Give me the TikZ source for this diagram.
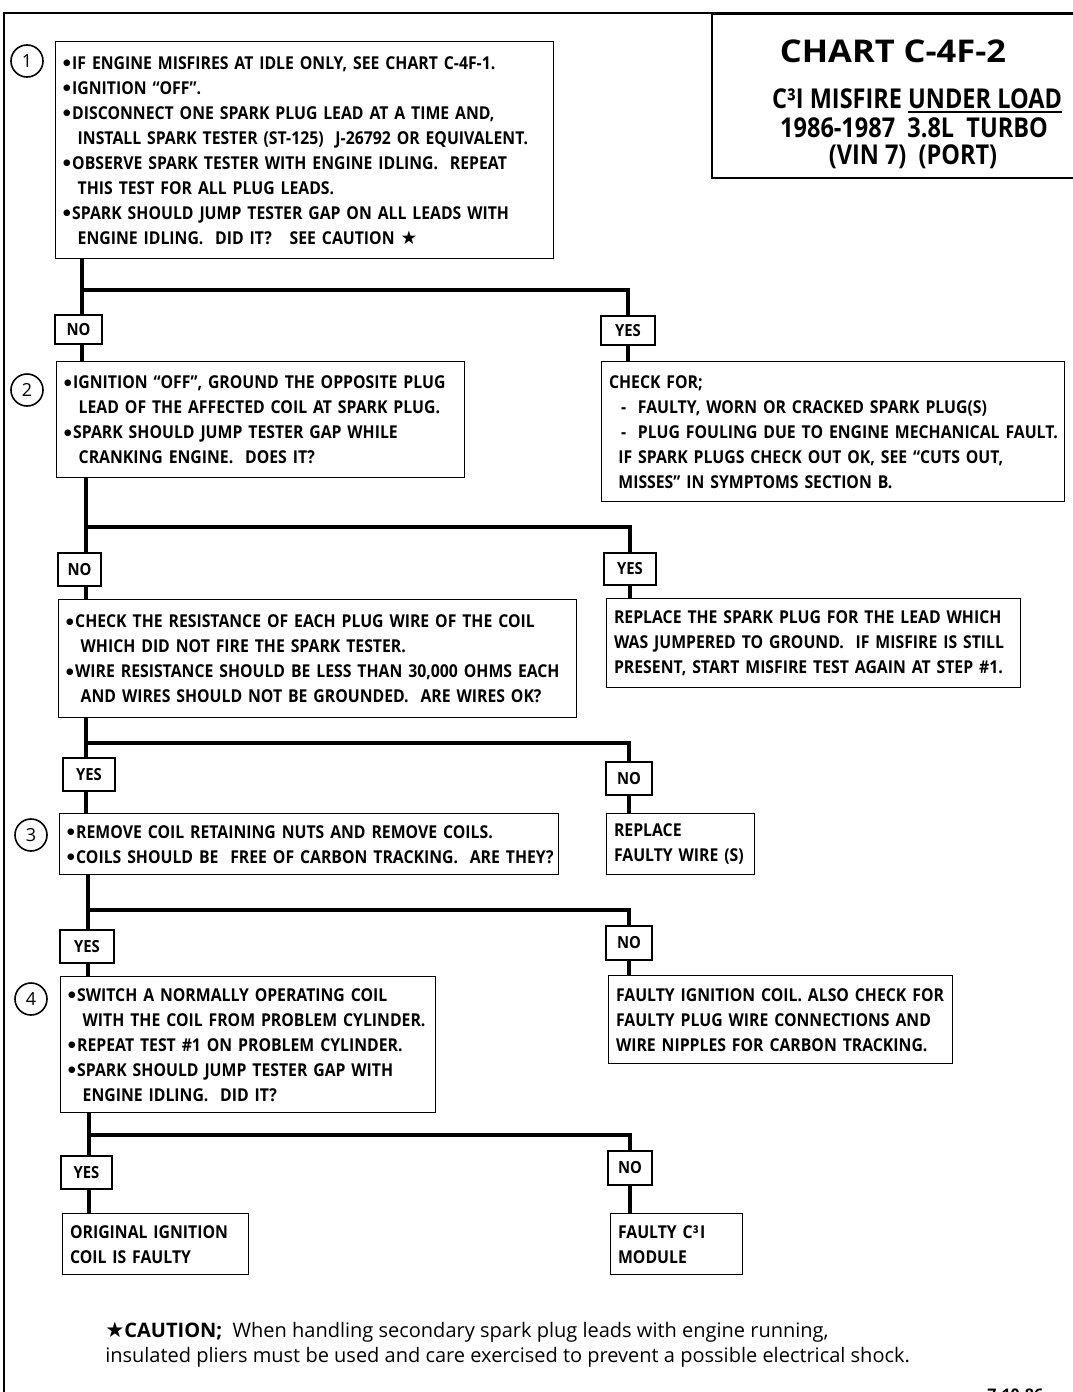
\documentclass[tikz,border=0pt]{standalone}
\usepackage{fontspec}
\newfontfamily\cfont[FakeStretch=0.89]{Open Sans}
\newfontfamily\nfont{Open Sans}
\newfontfamily\tafont[FakeStretch=1.1]{Open Sans}
\newfontfamily\tbfont[FakeStretch=0.86]{Open Sans}
\newfontfamily\symf{DejaVu Sans}
\newcommand\boxfont{\cfont\bfseries\fontsize{13.3}{18.75}\selectfont}
\newcommand\bul{\raisebox{2.6pt}{\symf\fontsize{6.5}{7}\selectfont ●}\kern1.2pt}
\newcommand\bl[1]{\mbox{\bul#1}}
\newcommand\ct[1]{\mbox{\hspace*{11pt}#1}}
\newcommand\pl[1]{\mbox{#1}}
\newcommand\myul[1]{\setbox0\hbox{#1}\rlap{\rule[-3.4pt]{\wd0}{1.4pt}}\box0}
\newcommand\chbox[6]{%
  \pgfmathsetlengthmacro\chbW{(#4-#2)*0.75pt}%
  \pgfmathsetlengthmacro\chbH{(#5-#3)*0.75pt}%
  \pgfmathsetlengthmacro\chbT{(#4-#2)*0.75pt-11pt}%
  \node[cbox,minimum width=\chbW,minimum height=\chbH,text width=\chbT,anchor=north west] (#1) at (#2,#3) {#6};}
\newcommand\lbl[6]{%
  \node[lblst,minimum width={(#4-#2)*0.75pt},minimum height={(#5-#3)*0.75pt}] (#1) at ({(#2+#4)/2},{(#3+#5)/2}) {#6};}
\begin{document}
\begin{tikzpicture}[x=0.75pt,y=-0.75pt,
  cbox/.style={draw,line width=1.1pt,inner xsep=5.5pt,inner ysep=0pt,align=left,font=\boxfont},
  lblst/.style={draw,line width=1.1pt,inner sep=0pt,font=\cfont\bfseries\fontsize{12.5}{14}\selectfont},
  circ/.style={draw,circle,line width=1.2pt,minimum size=24pt,inner sep=0pt,font=\nfont\fontsize{13.5}{15}\selectfont},
  trunk/.style={line width=3.2pt,line join=miter},
  frame/.style={line width=2pt},
  ttla/.style={inner sep=0pt,font=\tafont\bfseries\fontsize{23.5}{27}\selectfont},
  ttlb/.style={inner sep=0pt,font=\tbfont\bfseries\fontsize{20.5}{24}\selectfont}]
\useasboundingbox (0,0) rectangle (1072,1392);
% frame
\draw[frame] (4,1395) -- (4,13) -- (1076,13);
\node[draw,line width=1.3pt,inner sep=0pt,minimum width={(1080-711)*0.75pt},minimum height={(177-13)*0.75pt},anchor=north west] (tbox) at (711,13) {};
\node[ttla,anchor=base] (t1) at (893,62) {CHART C-4F-2};
\node[ttlb,anchor=base] (t2) at (917,108) {C³I MISFIRE \myul{UNDER LOAD}};
\node[ttlb,anchor=base] (t3) at (914,137) {1986-1987\ \ 3.8L\ \ TURBO};
\node[ttlb,anchor=base] (t4) at (913,164) {(VIN 7)\ \ (PORT)};
% step circles
\node[circ] (c1) at (27,61) {1};
\node[circ] (c2) at (27,390) {2};
\node[circ] (c3) at (31,835) {3};
\node[circ] (c4) at (31,999) {4};
% boxes
\chbox{b1}{55}{41}{553}{258}{\bl{IF ENGINE MISFIRES AT IDLE ONLY, SEE CHART C-4F-1.}\\
\bl{IGNITION “OFF”.}\\
\bl{DISCONNECT ONE SPARK PLUG LEAD AT A TIME AND,}\\
\ct{INSTALL SPARK TESTER (ST-125)\ \ J-26792 OR EQUIVALENT.}\\
\bl{OBSERVE SPARK TESTER WITH ENGINE IDLING.\ \ REPEAT}\\
\ct{THIS TEST FOR ALL PLUG LEADS.}\\
\bl{SPARK SHOULD JUMP TESTER GAP ON ALL LEADS WITH}\\
\ct{ENGINE IDLING.\ \ DID IT?\ \ \ SEE CAUTION {\symf\fontsize{14}{14}\selectfont ★}}}
\chbox{b2}{56}{361}{464}{477}{\bl{IGNITION “OFF”, GROUND THE OPPOSITE PLUG}\\
\ct{LEAD OF THE AFFECTED COIL AT SPARK PLUG.}\\
\bl{SPARK SHOULD JUMP TESTER GAP WHILE}\\
\ct{CRANKING ENGINE.\ \ DOES IT?}}
\chbox{chk}{601}{361}{1064}{501}{\pl{CHECK FOR;}\\
\pl{\hspace*{9pt}-\ \ FAULTY, WORN OR CRACKED SPARK PLUG(S)}\\
\pl{\hspace*{9pt}-\ \ PLUG FOULING DUE TO ENGINE MECHANICAL FAULT.}\\
\pl{\hspace*{7pt}IF SPARK PLUGS CHECK OUT OK, SEE “CUTS OUT,}\\
\pl{\hspace*{7pt}MISSES” IN SYMPTOMS SECTION B.}}
\chbox{b3}{58}{599}{576}{717}{\bl{CHECK THE RESISTANCE OF EACH PLUG WIRE OF THE COIL}\\
\ct{WHICH DID NOT FIRE THE SPARK TESTER.}\\
\bl{WIRE RESISTANCE SHOULD BE LESS THAN 30,000 OHMS EACH}\\
\ct{AND WIRES SHOULD NOT BE GROUNDED.\ \ ARE WIRES OK?}}
\chbox{rep}{606}{598}{1020}{687}{\pl{REPLACE THE SPARK PLUG FOR THE LEAD WHICH}\\
\pl{WAS JUMPERED TO GROUND.\ \ IF MISFIRE IS STILL}\\
\pl{PRESENT, START MISFIRE TEST AGAIN AT STEP \#1.}}
\chbox{s3}{59}{813}{558}{874}{\bl{REMOVE COIL RETAINING NUTS AND REMOVE COILS.}\\
\bl{COILS SHOULD BE\ \ FREE OF CARBON TRACKING.\ \ ARE THEY?}}
\chbox{wire}{606}{813}{754}{874}{\pl{REPLACE}\\
\pl{FAULTY WIRE (S)}}
\chbox{s4}{60}{976}{435}{1112}{\bl{SWITCH A NORMALLY OPERATING COIL}\\
\ct{WITH THE COIL FROM PROBLEM CYLINDER.}\\
\bl{REPEAT TEST \#1 ON PROBLEM CYLINDER.}\\
\bl{SPARK SHOULD JUMP TESTER GAP WITH}\\
\ct{ENGINE IDLING.\ \ DID IT?}}
\chbox{coil}{608}{975}{952}{1063}{\pl{FAULTY IGNITION COIL. ALSO CHECK FOR}\\
\pl{FAULTY PLUG WIRE CONNECTIONS AND}\\
\pl{WIRE NIPPLES FOR CARBON TRACKING.}}
\chbox{orig}{62}{1213}{248}{1274}{\pl{ORIGINAL IGNITION}\\
\pl{COIL IS FAULTY}}
\chbox{mod}{610}{1213}{742}{1274}{\pl{FAULTY C³\kern1pt I}\\
\pl{MODULE}}
% labels
\lbl{no1}{55}{315}{102}{344}{NO}
\lbl{yes1}{601}{316}{655}{345}{YES}
\lbl{no2}{58}{553}{101}{586}{NO}
\lbl{yes2}{604}{553}{656}{585}{YES}
\lbl{yes3}{63}{758}{115}{791}{YES}
\lbl{no3}{606}{762}{652}{795}{NO}
\lbl{yes4}{60}{930}{114}{963}{YES}
\lbl{no4}{606}{926}{652}{960}{NO}
\lbl{yes5}{61}{1156}{112}{1189}{YES}
\lbl{no5}{608}{1151}{652}{1185}{NO}
% junctions
\coordinate (j1) at (82,290);
\coordinate (j2) at (86,527);
\coordinate (j3) at (86,743);
\coordinate (j4) at (88,910);
\coordinate (j5) at (89,1135);
% connectors
\draw[trunk] (b1.south -| j1) -- (no1.north -| j1);
\draw[trunk] (no1.south -| j1) -- (b2.north -| j1);
\draw[trunk] (j1) -| (yes1.north);
\draw[trunk] (yes1.south) -- (chk.north -| yes1.south);
\draw[trunk] (b2.south -| j2) -- (no2.north -| j2);
\draw[trunk] (no2.south -| j2) -- (b3.north -| j2);
\draw[trunk] (j2) -| (yes2.north);
\draw[trunk] (yes2.south) -- (rep.north -| yes2.south);
\draw[trunk] (b3.south -| j3) -- (yes3.north -| j3);
\draw[trunk] (yes3.south -| j3) -- (s3.north -| j3);
\draw[trunk] (j3) -| (no3.north);
\draw[trunk] (no3.south) -- (wire.north -| no3.south);
\draw[trunk] (s3.south -| j4) -- (yes4.north -| j4);
\draw[trunk] (yes4.south -| j4) -- (s4.north -| j4);
\draw[trunk] (j4) -| (no4.north);
\draw[trunk] (no4.south) -- (coil.north -| no4.south);
\draw[trunk] (s4.south -| j5) -- (yes5.north -| j5);
\draw[trunk] (yes5.south -| j5) -- (orig.north -| j5);
\draw[trunk] (j5) -| (no5.north);
\draw[trunk] (no5.south) -- (mod.north -| no5.south);
% caution
\node[anchor=base west,align=left,inner sep=0pt,font=\nfont\fontsize{15}{18.75}\selectfont] (caut) at (105,1362)
 {{\symf\fontsize{16}{16}\selectfont ★}\textbf{CAUTION;}\ \ When handling secondary spark plug leads with engine running,\\
 insulated pliers must be used and care exercised to prevent a possible electrical shock.};
\node[anchor=north west,inner sep=0pt,font=\nfont\bfseries\fontsize{12}{14}\selectfont] (date) at (987,1389) {7-10-86};
\end{tikzpicture}
\end{document}
